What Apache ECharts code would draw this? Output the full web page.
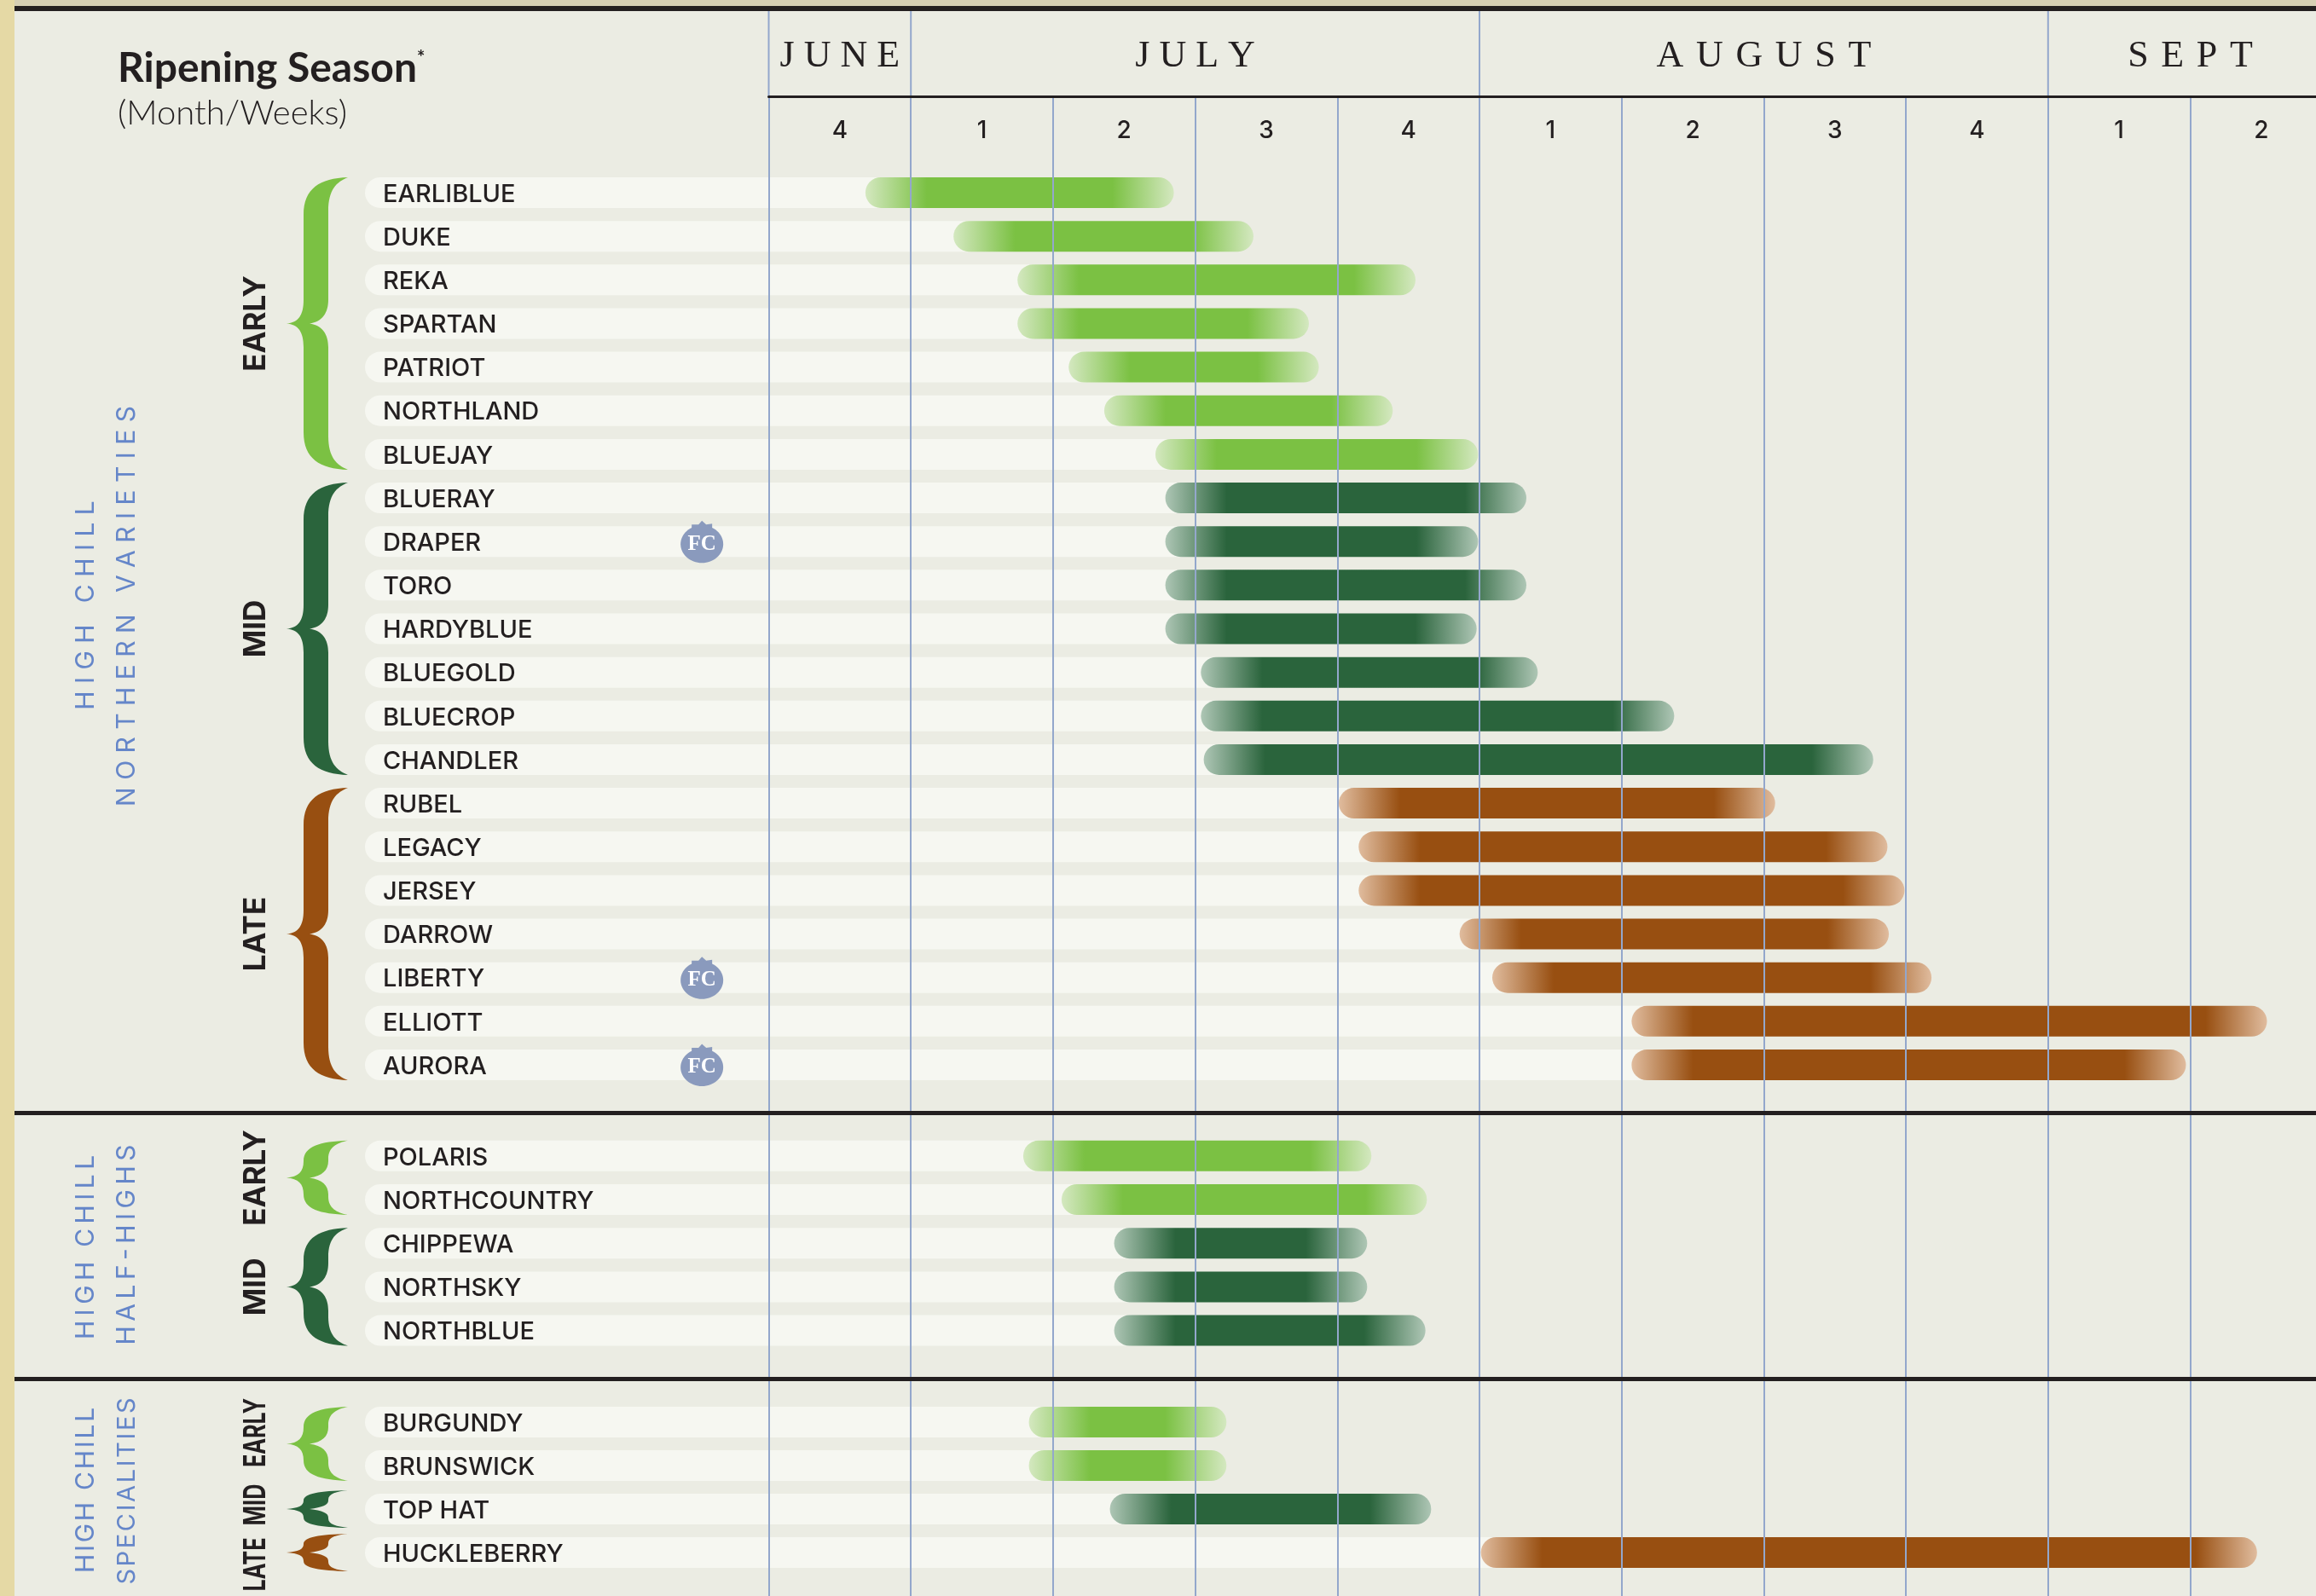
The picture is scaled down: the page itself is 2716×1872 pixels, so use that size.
<!DOCTYPE html>
<html lang="en">
<head>
    <meta charset="UTF-8">
    <title>Ripening Season</title>
    <script src="https://cdn.jsdelivr.net/npm/echarts@6/dist/echarts.min.js"></script>
    <style>
        html, body { margin: 0; padding: 0; background: #ebece3; }
    </style>
</head>
<body>
<div id="chart-container" style="width: 2716px;height: 1872px;"></div>
</body>
<script type="text/javascript">
    // values are in weeks, counted from the start of the last week of June
    var weekLabels = ['4', '1', '2', '3', '4', '1', '2', '3', '4', '1', '2'];
    var monthNames = ['J U N E', 'J U L Y', 'A\u200a U\u200a G\u200a U\u200a S\u200a T', 'S\u200a E\u200a P\u200a T'];
    var monthStarts = [0, 1, 5, 9];
    var monthEnds = [1, 5, 9, 11];

    var northernNames = ['EARLIBLUE', 'DUKE', 'REKA', 'SPARTAN', 'PATRIOT', 'NORTHLAND', 'BLUEJAY',
        'BLUERAY', 'DRAPER', 'TORO', 'HARDYBLUE', 'BLUEGOLD', 'BLUECROP', 'CHANDLER',
        'RUBEL', 'LEGACY', 'JERSEY', 'DARROW', 'LIBERTY', 'ELLIOTT', 'AURORA'];
    var northernStart = [0.68, 1.30, 1.75, 1.75, 2.11, 2.36, 2.72,
        2.79, 2.79, 2.79, 2.79, 3.04, 3.04, 3.06,
        4.01, 4.15, 4.15, 4.86, 5.09, 6.07, 6.07];
    var northernEnd = [2.85, 3.41, 4.55, 3.80, 3.87, 4.39, 4.99,
        5.33, 4.99, 5.33, 4.98, 5.41, 6.37, 7.77,
        7.08, 7.87, 7.99, 7.88, 8.18, 10.54, 9.97];
    var northernTiers = [['EARLY', 0, 6], ['MID', 7, 13], ['LATE', 14, 20]];

    var halfHighNames = ['POLARIS', 'NORTHCOUNTRY', 'CHIPPEWA', 'NORTHSKY', 'NORTHBLUE'];
    var halfHighStart = [1.79, 2.06, 2.43, 2.43, 2.43];
    var halfHighEnd = [4.24, 4.63, 4.21, 4.21, 4.62];
    var halfHighTiers = [['EARLY', 0, 1], ['MID', 2, 4]];

    var specialityNames = ['BURGUNDY', 'BRUNSWICK', 'TOP HAT', 'HUCKLEBERRY'];
    var specialityStart = [1.83, 1.83, 2.40, 5.01];
    var specialityEnd = [3.22, 3.22, 4.66, 10.47];
    var specialityTiers = [['EARLY', 0, 1], ['MID', 2, 2], ['LATE', 3, 3]];

    var fcVarieties = ['DRAPER', 'LIBERTY', 'AURORA'];

    // end tint, solid
    var tierColors = {
        EARLY: ['#d4e8c0', '#7bc143'],
        MID: ['#aec6b5', '#2a643c'],
        LATE: ['#e0bc9e', '#984f11']
    };

    var sans = 'Inter';
    var ink = '#231f20';
    var blue = '#6586c9';
    var gridLeft = 901.5;
    var gridWidth = 166.7 * 11;
    var barHeight = 36;
    var fade = 72;

    var container = document.getElementById('chart-container');
    var myChart = echarts.init(container);

    function tierOf(tiers, i) {
        return tiers.filter(function (t) { return i >= t[1] && i <= t[2]; })[0][0];
    }

    function bracePath(top, bot) {
        var mid = (top + bot) / 2;
        var q = (bot - top) / 2;
        var a = Math.min(44, q * 0.55);
        var b = Math.min(28, q * 0.45);
        return 'M408,' + top +
            'C375,' + (top + 1) + ' 356,' + (top + a * 0.3) + ' 356,' + (top + a) +
            'L356,' + (mid - b) +
            'C356,' + (mid - b * 0.35) + ' 350,' + (mid - 1) + ' 336,' + mid +
            'C350,' + (mid + 1) + ' 356,' + (mid + b * 0.35) + ' 356,' + (mid + b) +
            'L356,' + (bot - a) +
            'C356,' + (bot - a * 0.3) + ' 375,' + (bot - 1) + ' 408,' + bot +
            'C395,' + (bot - a * 0.12) + ' 385,' + (bot - a * 0.32) + ' 385,' + (bot - a * 0.9) +
            'L385,' + (mid + b) +
            'C385,' + (mid + b * 0.45) + ' 378,' + (mid + 2) + ' 363,' + mid +
            'C378,' + (mid - 2) + ' 385,' + (mid - b * 0.45) + ' 385,' + (mid - b) +
            'L385,' + (top + a * 0.9) +
            'C385,' + (top + a * 0.32) + ' 395,' + (top + a * 0.12) + ' 408,' + top + 'Z';
    }

    // one row block: bands, bars, braces and FC badges on their own grid
    function rowSeries(axisIndex, names, starts, ends, tiers, tierScale, tierNudge) {
        var rows = names.map(function (n, i) { return [starts[i], ends[i], i]; });
        var common = { type: 'custom', xAxisIndex: axisIndex, yAxisIndex: axisIndex, silent: true, clip: false };
        return [
            Object.assign({}, common, {
                z: 1,
                data: rows,
                encode: { x: [0, 1], y: 2 },
                renderItem: function (params, api) {
                    var p = api.coord([api.value(0), api.value(2)]);
                    return {
                        type: 'rect',
                        shape: { x: 428, y: p[1] - barHeight / 2, width: p[0] + 20 - 428, height: barHeight, r: [18, 0, 0, 18] },
                        style: { fill: '#f6f7f1' }
                    };
                }
            }),
            Object.assign({}, common, {
                z: 2,
                data: rows,
                encode: { x: [0, 1], y: 2 },
                renderItem: function (params, api) {
                    var p0 = api.coord([api.value(0), api.value(2)]);
                    var p1 = api.coord([api.value(1), api.value(2)]);
                    var w = p1[0] - p0[0];
                    var c = tierColors[tierOf(tiers, api.value(2))];
                    var f = fade / w;
                    return {
                        type: 'rect',
                        shape: { x: p0[0], y: p0[1] - barHeight / 2, width: w, height: barHeight, r: 18 },
                        style: {
                            fill: new echarts.graphic.LinearGradient(0, 0, 1, 0, [
                                { offset: 0, color: c[0] },
                                { offset: f, color: c[1] },
                                { offset: 1 - f, color: c[1] },
                                { offset: 1, color: c[0] }
                            ])
                        }
                    };
                }
            }),
            Object.assign({}, common, {
                z: 3,
                data: tiers.map(function (t, i) { return [0, t[1], t[2], i]; }),
                encode: { x: 0, y: [1, 2] },
                renderItem: function (params, api) {
                    var t = tiers[api.value(3)];
                    var half = barHeight / 2;
                    var pad = t[1] === t[2] ? 4 : 0;
                    var top = api.coord([0, t[1]])[1] - half - pad;
                    var bot = api.coord([0, t[2]])[1] + half + pad;
                    return {
                        type: 'group',
                        children: [{
                            type: 'path',
                            shape: { pathData: bracePath(top, bot) },
                            style: { fill: tierColors[t[0]][1] }
                        }, {
                            type: 'text',
                            x: 300,
                            y: (top + bot) / 2 + (tierNudge ? tierNudge[api.value(3)] : 0),
                            rotation: Math.PI / 2,
                            scaleX: tierScale,
                            style: {
                                text: t[0], align: 'center', verticalAlign: 'middle',
                                fontFamily: sans, fontWeight: 'bold', fontSize: 35, fill: ink
                            }
                        }]
                    };
                }
            }),
            Object.assign({}, common, {
                z: 3,
                data: rows.filter(function (r) { return fcVarieties.indexOf(names[r[2]]) >= 0; }),
                encode: { x: [0, 1], y: 2 },
                renderItem: function (params, api) {
                    var p = api.coord([-0.47, api.value(2)]);
                    var x = p[0];
                    var y = p[1] + 3;
                    return {
                        type: 'group',
                        children: [{
                            type: 'polygon',
                            shape: { points: [[x - 12, y - 23], [x - 4, y - 23], [x, y - 27.5], [x + 5, y - 23], [x + 12, y - 24], [x + 12, y - 16], [x - 12, y - 16]] },
                            style: { fill: '#8a9abd' }
                        }, {
                            type: 'ellipse',
                            shape: { cx: x, cy: y, rx: 25, ry: 22 },
                            style: { fill: '#8a9abd' }
                        }, {
                            type: 'text', x: x, y: y,
                            style: {
                                text: 'FC', align: 'center', verticalAlign: 'middle',
                                fontFamily: 'Liberation Serif', fontWeight: 'bold', fontSize: 25, fill: '#ffffff'
                            }
                        }]
                    };
                }
            })
        ];
    }

    function hiddenValueX(gridIndex) {
        return { type: 'value', gridIndex: gridIndex, min: 0, max: 11, interval: 1, show: false };
    }

    function rowAxis(gridIndex, names) {
        return {
            type: 'category', gridIndex: gridIndex, data: names, inverse: true, z: 6,
            axisLine: { show: false },
            axisTick: { show: false },
            splitLine: { show: false },
            axisLabel: {
                interval: 0, margin: gridLeft - 449, align: 'left',
                formatter: function (v) { return '{a|' + v + '}'; },
                rich: {
                    a: { fontFamily: sans, fontSize: 29, fontWeight: 500, color: ink, padding: [4, 0, 0, 0] }
                }
            }
        };
    }

    function blueText(text, x, y, size) {
        return {
            type: 'text', x: x, y: y, rotation: Math.PI / 2, z: 10,
            style: {
                text: text, align: 'center', verticalAlign: 'middle',
                fontFamily: sans, fontSize: size || 30, fill: blue
            }
        };
    }

    function band(x, y, w, h, color) {
        return { type: 'rect', z: 10, shape: { x: x, y: y, width: w, height: h }, style: { fill: color } };
    }

    function plotGrid(top, height) {
        return { left: gridLeft, width: gridWidth, top: top, height: height, outerBoundsMode: 'none' };
    }

    var option = {
        backgroundColor: '#ebece3',
        animation: false,
        title: {
            left: 138, top: 57, padding: 0, itemGap: 8,
            text: '{t|Ripening Season}{s|*}',
            textStyle: {
                rich: {
                    t: { fontFamily: 'Lato', fontWeight: 'bold', fontSize: 48, color: ink },
                    s: { fontFamily: 'Lato', fontSize: 22, color: ink, verticalAlign: 'top' }
                }
            },
            subtext: '(Month/Weeks)',
            subtextStyle: { fontFamily: 'Lato', fontSize: 40, fontWeight: 300, color: ink }
        },
        graphic: [
            band(0, 0, 2716, 7, '#d6cfb4'),
            band(0, 7, 2716, 6, ink),
            band(0, 0, 17, 1872, '#e5d9a5'),
            band(17, 1303, 2699, 5, ink),
            band(17, 1615, 2699, 5, ink),
            blueText('H I G H   C H I L L', 101, 710),
            blueText('N O R T H E R N   V A R I E T I E S', 149, 711),
            blueText('H\u2009I\u2009G\u2009H  C\u2009H\u2009I\u2009L\u2009L', 101, 1463),
            blueText('H\u2009A\u2009L\u2009F\u2009-\u2009H\u2009I\u2009G\u2009H\u2009S', 149, 1460),
            blueText('H\u200aI\u200aG\u200aH\u2009 C\u200aH\u200aI\u200aL\u200aL', 101, 1748),
            blueText('S\u200aP\u200aE\u200aC\u200aI\u200aA\u200aL\u200aI\u200aT\u200aI\u200aE\u200aS', 149, 1749, 29)
        ],
        grid: [
            plotGrid(113, 1759),
            plotGrid(13, 100),
            plotGrid(200.4, 1074.2),
            plotGrid(1330.2, 256),
            plotGrid(1642.5, 204)
        ],
        xAxis: [
            {
                type: 'category', gridIndex: 0, position: 'top', data: weekLabels, z: 5,
                axisLine: { show: true, onZero: false, lineStyle: { color: ink, width: 3 } },
                axisTick: { show: false },
                axisLabel: { interval: 0, inside: true, margin: 27, fontFamily: sans, fontSize: 28, fontWeight: 500, color: ink },
                splitLine: { show: true, interval: 0, lineStyle: { color: '#93a7cc', width: 2 } }
            },
            hiddenValueX(1), hiddenValueX(2), hiddenValueX(3), hiddenValueX(4)
        ],
        yAxis: [
            { type: 'value', gridIndex: 0, min: 0, max: 1, show: false, splitLine: { show: false } },
            { type: 'value', gridIndex: 1, min: 0, max: 1, show: false, splitLine: { show: false } },
            rowAxis(2, northernNames),
            rowAxis(3, halfHighNames),
            rowAxis(4, specialityNames)
        ],
        series: [
            {
                type: 'custom', xAxisIndex: 1, yAxisIndex: 1, z: 5, silent: true, clip: false,
                data: monthNames.map(function (m, i) { return [monthStarts[i], monthEnds[i], i]; }),
                encode: { x: [0, 1] },
                renderItem: function (params, api) {
                    var x0 = api.coord([api.value(0), 0]);
                    var x1 = api.coord([api.value(1), 0]);
                    var top = api.coord([0, 1])[1];
                    return {
                        type: 'group',
                        children: [{
                            type: 'line',
                            shape: { x1: x0[0], y1: top, x2: x0[0], y2: x0[1] },
                            style: { stroke: '#93a7cc', lineWidth: 2 }
                        }, {
                            type: 'text', x: (x0[0] + x1[0]) / 2, y: 66,
                            style: {
                                text: monthNames[api.value(2)], align: 'center', verticalAlign: 'middle',
                                fontFamily: 'Liberation Serif', fontSize: 44, fill: ink
                            }
                        }]
                    };
                }
            }
        ].concat(
            rowSeries(2, northernNames, northernStart, northernEnd, northernTiers, 1),
            rowSeries(3, halfHighNames, halfHighStart, halfHighEnd, halfHighTiers, 1),
            rowSeries(4, specialityNames, specialityStart, specialityEnd, specialityTiers, 0.72, [-13, -5, 14])
        )
    };

    myChart.setOption(option);
</script>
</html>
